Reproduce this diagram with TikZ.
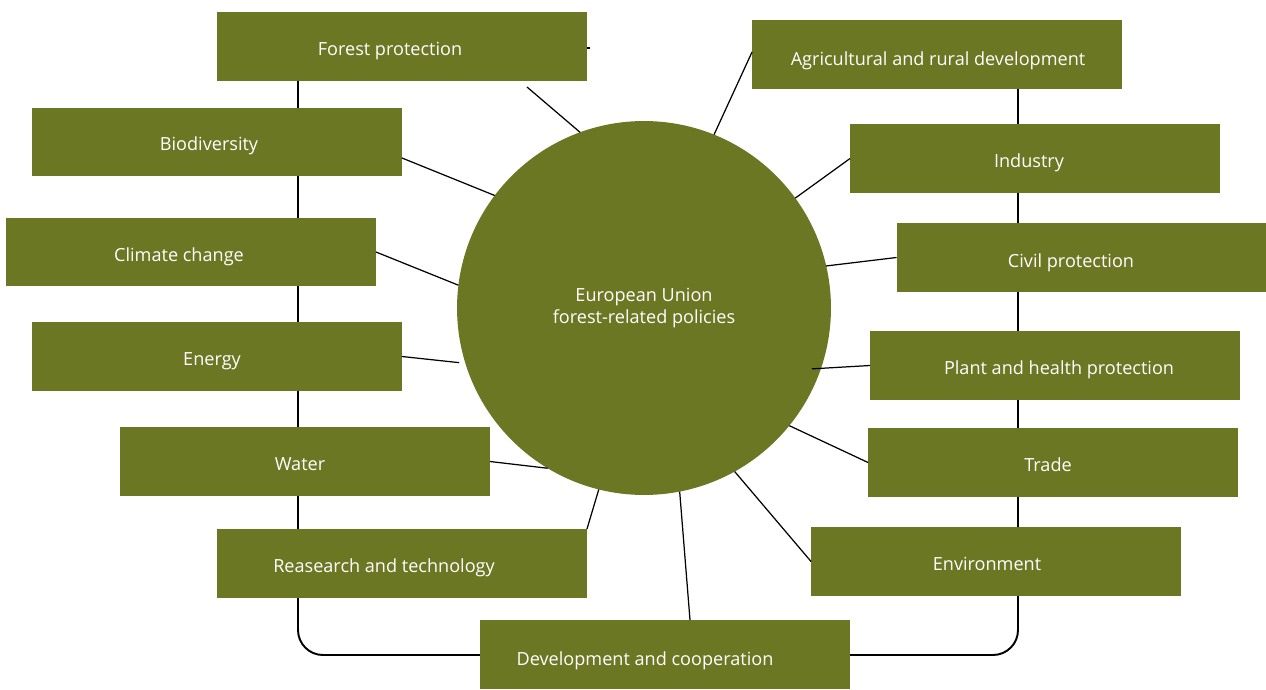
\documentclass[tikz,border=0pt]{standalone}
\usepackage{fontspec}
\setmainfont{Open Sans}
\usetikzlibrary{shapes}
\definecolor{euolive}{RGB}{107,119,35}

\begin{document}
\begin{tikzpicture}[x=0.02cm, y=-0.02cm,
    box/.style = {fill=euolive, minimum width=7.4cm, minimum height=1.38cm,
                inner sep=0pt, outer sep=0pt},
    lbl/.style = {text=white, font=\fontsize{10.3}{12}\selectfont,
                text height=7.4pt, text depth=0pt, inner sep=0pt},
    link/.style = {black, line width=0.7pt},
    frame/.style = {black, line width=1.1pt, rounded corners=0.5cm}
                    ]
        \useasboundingbox (0,0) rectangle (1266,689);
        % outer frame, behind the boxes
        \coordinate (fl) at (298,81);
        \coordinate (fr) at (1018,89);
        \coordinate (fb) at (665,655);
        \draw [frame] (fl) |- (fb) -| (fr);
        \foreach \x/\y/\tx/\ty/\n/\t in {402/46.5/390/49/forest/Forest protection,
                937/54.5/938/59/agri/Agricultural and rural development,
                217/142/209/144/bio/Biodiversity,
                1035/158.5/1029/161/ind/Industry,
                191/252/179/255/climate/Climate change,
                1081.5/257.5/1071/261/civil/Civil protection,
                217/356.5/212/359/energy/Energy,
                1055/365.5/1059/368/plant/Plant and health protection,
                305/461.5/300/464/water/Water,
                1053/462.5/1048/465/trade/Trade,
                402/563.5/384/566/research/Reasearch and technology,
                996/561.5/987/564/env/Environment,
                665/654.5/645/659/dev/Development and cooperation}
        {
            \node[box] at (\x,\y) (\n) {};
            \node[lbl] at (\tx,\ty) (\n-t) {\t};
        }
        \node[circle, fill=euolive, minimum size=7.48cm, inner sep=0pt, outer sep=0pt,
              text=white, align=center, font=\fontsize{10.3}{13}\selectfont]
              at (644,308) (eu) {European Union\\forest-related policies};
        \draw [link] (eu.110) -- ([xshift=2.5cm,yshift=-0.12cm]forest.south);
        \draw [link] ([yshift=-0.03cm]forest.east) -- ++(3,0);
        \draw [link] (eu.68) -- ([yshift=0.05cm]agri.west);
        \draw [link] (eu.143) -- ([yshift=-0.32cm]bio.east);
        \draw [link] (eu.36) -- (ind.west);
        \draw [link] (eu.173) -- (climate.east);
        \draw [link] (eu.13) -- (civil.west);
        \draw [link] ([xshift=-0.12cm]eu.197) -- (energy.east);
        \draw [link] ([xshift=-0.18cm]eu.-19) -- (plant.west);
        \draw [link] (eu.239) -- (water.east);
        \draw [link] (eu.-39) -- (trade.west);
        \draw [link] (eu.256) -- (research.north east);
        \draw [link] (eu.281) -- ([xshift=0.5cm]dev.north);
        \draw [link] (eu.299) -- (env.west);
    \end{tikzpicture}
\end{document}
